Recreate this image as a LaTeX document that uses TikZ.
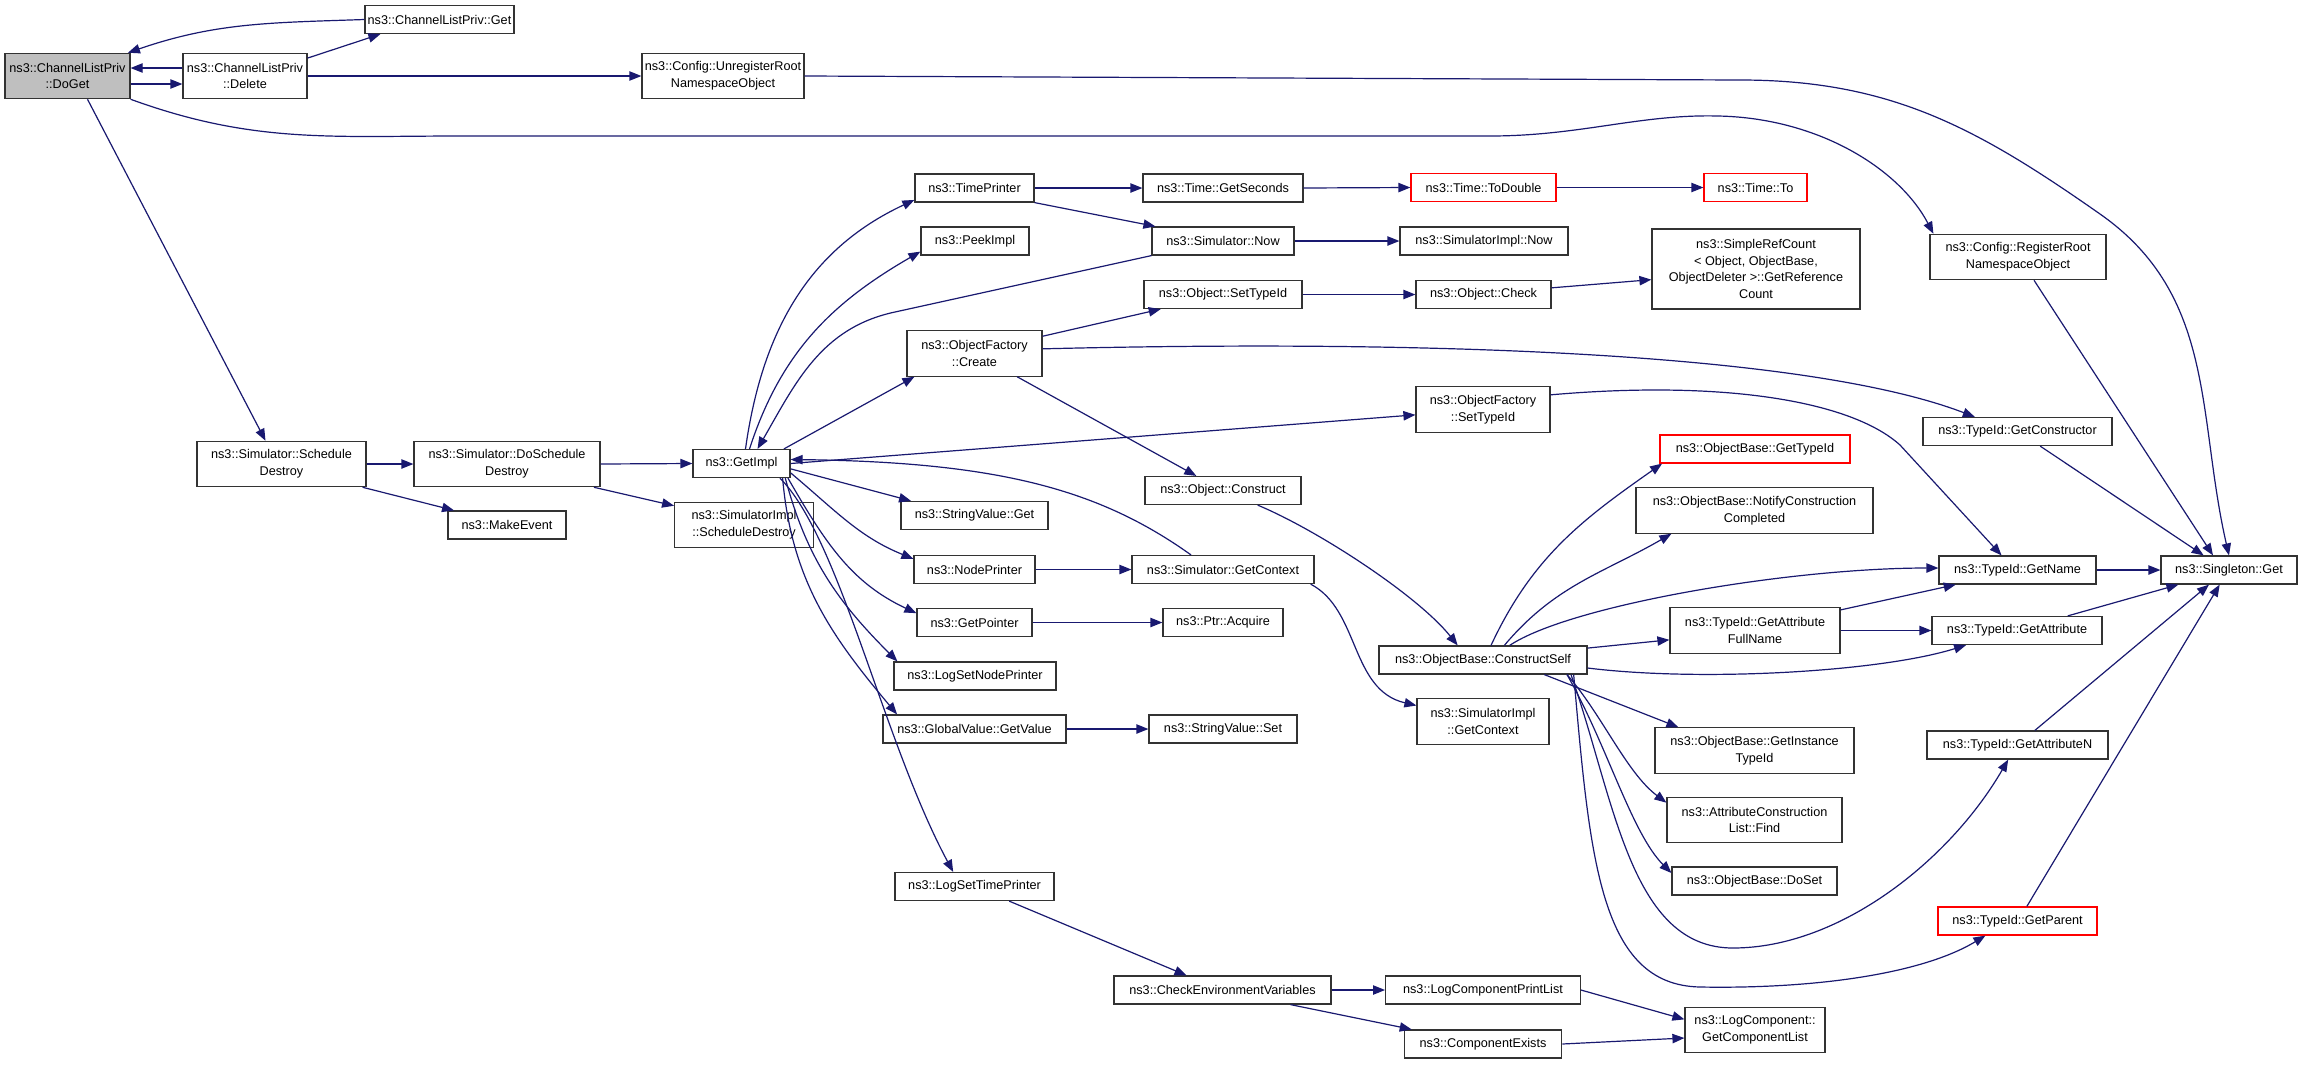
\documentclass[tikz,border=0pt]{standalone}
\usepackage{fontspec}
\setmainfont{Liberation Sans}
\usetikzlibrary{arrows.meta}
\definecolor{edgeblue}{RGB}{25,25,112}
\tikzstyle{fn} = [rectangle, draw=black!80, line width=0.9pt, text centered, align=center, inner xsep=2pt, inner ysep=1pt, minimum height=21pt, font=\fontsize{9.5}{12.5}\selectfont]
\tikzstyle{fntwo} = [fn, minimum height=34pt]
\tikzstyle{root} = [fntwo, fill=black!25]
\tikzstyle{undoc} = [fn, draw=red]
\tikzstyle{call} = [draw=edgeblue, line width=0.9pt, ->]

\begin{document}
\begin{tikzpicture}[x=0.75pt, y=-0.75pt, >={Triangle[length=9pt,width=7pt]}]
	\fill [white] (0,0) rectangle (2299,1072);
	\useasboundingbox (0,0) rectangle (2299,1072);

	% place nodes
	\node [root, minimum width=93.75pt]   (N0) at (67.5,76)   {ns3::ChannelListPriv\\::DoGet};
	\node [fntwo, minimum width=93pt]     (N1) at (245,76)    {ns3::ChannelListPriv\\::Delete};
	\node [fn, minimum width=108.75pt]    (N2) at (439.5,19.5) {ns3::ChannelListPriv::Get};
	\node [fntwo, minimum width=121.5pt]  (N3) at (723,76)    {ns3::Config::UnregisterRoot\\NamespaceObject};
	\node [fntwo, minimum width=126.75pt] (N4) at (281.5,464) {ns3::Simulator::Schedule\\Destroy};
	\node [fntwo, minimum width=139.5pt]  (N5) at (507,464)   {ns3::Simulator::DoSchedule\\Destroy};
	\node [fn, minimum width=88.5pt]      (N6) at (507,525)   {ns3::MakeEvent};
	\node [fntwo, minimum width=104pt]    (N7) at (744,525)   {ns3::SimulatorImpl\\::ScheduleDestroy};
	\node [fn, minimum width=72.75pt]     (N8) at (741.5,463.5) {ns3::GetImpl};

	\node [fn, minimum width=89.25pt]     (N9)  at (974.5,188)   {ns3::TimePrinter};
	\node [fn, minimum width=81pt]        (N10) at (975,241)     {ns3::PeekImpl};
	\node [fntwo, minimum width=101.25pt] (N11) at (974.5,353.5) {ns3::ObjectFactory\\::Create};
	\node [fn, minimum width=110.25pt]    (N12) at (974.5,515.5) {ns3::StringValue::Get};
	\node [fn, minimum width=90.75pt]     (N13) at (974.5,569.5) {ns3::NodePrinter};
	\node [fn, minimum width=86.25pt]     (N14) at (974.5,622.5) {ns3::GetPointer};
	\node [fn, minimum width=121.5pt]     (N15) at (975,676)     {ns3::LogSetNodePrinter};
	\node [fn, minimum width=137.25pt]    (N16) at (974.5,729)   {ns3::GlobalValue::GetValue};
	\node [fn, minimum width=119.25pt]    (N17) at (974.5,886.5) {ns3::LogSetTimePrinter};

	\node [fn, minimum width=120pt]       (N18) at (1223,188)   {ns3::Time::GetSeconds};
	\node [fn, minimum width=106.5pt]     (N19) at (1223,241)   {ns3::Simulator::Now};
	\node [fn, minimum width=118.5pt]     (N20) at (1223,294.5) {ns3::Object::SetTypeId};
	\node [fn, minimum width=117pt]       (N21) at (1223,490.5) {ns3::Object::Construct};
	\node [fn, minimum width=136.5pt]     (N22) at (1223,569.5) {ns3::Simulator::GetContext};
	\node [fn, minimum width=90pt]        (N23) at (1223,622.5) {ns3::Ptr::Acquire};
	\node [fn, minimum width=111pt]       (N24) at (1223,729)   {ns3::StringValue::Set};
	\node [fn, minimum width=162.75pt]    (N25) at (1222.5,990) {ns3::CheckEnvironmentVariables};

	\node [undoc, minimum width=108.75pt] (N26) at (1483.5,187.5) {ns3::Time::ToDouble};
	\node [fn, minimum width=126pt]       (N27) at (1484,241)     {ns3::SimulatorImpl::Now};
	\node [fn, minimum width=101.25pt]    (N28) at (1483.5,294.5) {ns3::Object::Check};
	\node [fntwo, minimum width=100.5pt]  (N29) at (1483,409.5)   {ns3::ObjectFactory\\::SetTypeId};
	\node [fn, minimum width=156pt]       (N30) at (1483,660)     {ns3::ObjectBase::ConstructSelf};
	\node [fntwo, minimum width=99pt]     (N31) at (1483,721.5)   {ns3::SimulatorImpl\\::GetContext};
	\node [fn, minimum width=146pt]       (N32) at (1483,990)     {ns3::LogComponentPrintList};
	\node [fn, minimum width=118pt]       (N33) at (1483,1044)    {ns3::ComponentExists};

	\node [undoc, minimum width=77.25pt]  (N34) at (1755.5,187.5) {ns3::Time::To};
	\node [fn, minimum width=156pt, minimum height=60pt] (N35) at (1756,269)
		{ns3::SimpleRefCount\\{\textless} Object, ObjectBase,\\ObjectDeleter {\textgreater}::GetReference\\Count};
	\node [undoc, minimum width=142.5pt]  (N36) at (1755,449)     {ns3::ObjectBase::GetTypeId};
	\node [fntwo, minimum width=177.75pt] (N37) at (1754.5,510.5) {ns3::ObjectBase::NotifyConstruction\\Completed};
	\node [fntwo, minimum width=127.5pt]  (N38) at (1755,630.5)   {ns3::TypeId::GetAttribute\\FullName};
	\node [fntwo, minimum width=149.25pt] (N39) at (1754.5,750.5) {ns3::ObjectBase::GetInstance\\TypeId};
	\node [fntwo, minimum width=131.25pt] (N40) at (1754.5,820)   {ns3::AttributeConstruction\\List::Find};
	\node [fn, minimum width=123.75pt]    (N41) at (1754.5,881)   {ns3::ObjectBase::DoSet};
	\node [fntwo, minimum width=105pt]    (N42) at (1755,1030)    {ns3::LogComponent::\\GetComponentList};

	\node [fntwo, minimum width=132pt]    (N43) at (2018,257)     {ns3::Config::RegisterRoot\\NamespaceObject};
	\node [fn, minimum width=141.75pt]    (N44) at (2017.5,431.5) {ns3::TypeId::GetConstructor};
	\node [fn, minimum width=117.75pt]    (N45) at (2017.5,570)   {ns3::TypeId::GetName};
	\node [fn, minimum width=127.5pt]     (N46) at (2017,630.5)   {ns3::TypeId::GetAttribute};
	\node [fn, minimum width=135.75pt]    (N47) at (2017.5,745)   {ns3::TypeId::GetAttributeN};
	\node [undoc, minimum width=119.25pt] (N48) at (2017.5,921)   {ns3::TypeId::GetParent};
	\node [fn, minimum width=102pt]       (N49) at (2229,570)     {ns3::Singleton::Get};

	% draw edges
	\path [call] ([yshift=-6pt]N0.east) -- ([yshift=-6pt]N1.west);
	\path [call] ([yshift=6pt]N1.west) -- ([yshift=6pt]N0.east);
	\path [call] ([yshift=-4pt]N1.north east) -- ([xshift=12pt]N2.south west);
	\path [call] (N2.west) to[out=182,in=19] ([xshift=-2pt]N0.north east);
	\path [call] (N1.east) -- (N3.west);
	\path [call] (N3.east) -- (1740,80) to[out=0,in=145] (2100,214) to[out=-35,in=103] (N49.north);
	\path [call] (N0.south east) to[out=-20,in=180] (460,136) -- (1490,136)
		.. controls (1580,136) and (1640,114) .. (1718,116)
		.. controls (1820,118) and (1900,170) .. ([xshift=3pt]N43.north west);
	\path [call] ([xshift=12pt]N43.south) -- ([xshift=-12pt]N49.north);
	\path [call] ([xshift=15pt]N0.south) -- ([xshift=-12pt]N4.north);
	\path [call] (N4.east) -- (N5.west);
	\path [call] ([xshift=-3pt]N4.south east) -- ([xshift=5pt]N6.north west);
	\path [call] (N5.east) -- (N8.west);
	\path [call] ([xshift=-5pt]N5.south east) -- ([yshift=-3pt]N7.north west);

	\path [call] ([xshift=3pt]N8.north) to[out=82,in=205] ([yshift=2pt]N9.south west);
	\path [call] ([xshift=6pt]N8.north) to[out=72,in=210] ([yshift=3pt]N10.south west);
	\path [call] (N19.south west) -- (895,312) to[out=192,in=60] ([xshift=12pt]N8.north);
	\path [call] ([xshift=-5pt]N8.north east) -- ([xshift=6pt]N11.south west);
	\path [call] (N8.east) -- ([yshift=-4pt]N29.west);
	\path [call] ([xshift=-24pt]N22.north) .. controls (1100,490) and (1000,462) .. ([yshift=3pt]N8.east);
	\path [call] ([yshift=-4pt]N8.east) -- ([xshift=8pt]N12.north west);
	\path [call] ([yshift=-7pt]N8.east) to[out=-40,in=158] ([yshift=8pt]N13.west);
	\path [call] ([xshift=-2pt]N8.south east) to[out=-60,in=155] ([yshift=7pt]N14.west);
	\path [call] ([xshift=-4pt]N8.south east) to[out=-75,in=135] ([xshift=3pt]N15.north west);
	\path [call] ([xshift=-6pt]N8.south east) to[out=-85,in=130] ([xshift=11pt]N16.north west);
	\path [call] ([xshift=-8pt]N8.south east) .. controls +(60,60) and +(-70,-130) .. ([xshift=-16pt]N17.north);

	\path [call] (N9.east) -- (N18.west);
	\path [call] (N9.south east) -- ([xshift=3pt]N19.north west);
	\path [call] (N18.east) -- (N26.west);
	\path [call] (N26.east) -- (N34.west);
	\path [call] (N19.east) -- (N27.west);
	\path [call] ([yshift=-4.5pt]N11.north east) -- ([xshift=13pt]N20.south west);
	\path [call] (N20.east) -- (N28.west);
	\path [call] ([yshift=5pt]N28.east) -- ([yshift=-8pt]N35.west);
	\path [call] ([yshift=3.5pt]N11.east) .. controls (1400,340) and (1800,350) .. ([xshift=-32pt]N44.north);
	\path [call] ([xshift=32pt]N11.south) -- ([xshift=-20pt]N21.north);
	\path [call] ([xshift=26pt]N21.south) .. controls +(60,25) and +(-40,-50) .. ([xshift=-19pt]N30.north);
	\path [call] ([yshift=11pt]N29.east) .. controls (1720,380) and (1850,400) .. (1900,445) -- ([xshift=-12pt]N45.north);

	\path [call] ([xshift=6pt]N30.north) to[out=65,in=215] ([xshift=2pt]N36.south west);
	\path [call] ([xshift=16pt]N30.north) to[out=50,in=210] ([xshift=27pt]N37.south west);
	\path [call] ([xshift=20pt]N30.north) .. controls +(60,-40) and +(-150,0) .. ([yshift=1.5pt]N45.west);
	\path [call] ([yshift=-2pt]N30.north east) -- ([yshift=-7pt]N38.west);
	\path [call] ([yshift=-6pt]N30.east) .. controls (1700,682) and (1880,672) .. ([xshift=26pt]N46.south west);
	\path [call] ([xshift=46pt]N30.south) -- ([xshift=18pt]N39.north west);
	\path [call] ([xshift=63pt]N30.south) .. controls +(35,40) and +(-40,-30) .. ([yshift=13pt]N40.west);
	\path [call] ([xshift=63pt]N30.south) .. controls +(40,70) and +(-40,-40) .. ([yshift=6pt]N41.west);
	\path [call] ([xshift=66pt]N30.south) .. controls (1615,800) and (1630,948) .. (1733,948)
		.. controls (1840,948) and (1950,860) .. ([xshift=-7pt]N47.south);
	\path [call] ([xshift=68pt]N30.south) .. controls (1590,860) and (1600,985) .. (1700,987)
		.. controls (1810,989) and (1920,975) .. ([xshift=36pt]N48.south west);

	\path [call] ([yshift=-2pt]N38.north east) -- ([xshift=13pt]N45.south west);
	\path [call] (N38.east) -- (N46.west);
	\path [call] (N45.east) -- (N49.west);
	\path [call] ([xshift=38pt]N46.north) -- ([xshift=13.5pt]N49.south west);
	\path [call] ([xshift=13pt]N47.north) -- ([xshift=-15pt]N49.south);
	\path [call] ([xshift=7pt]N48.north) -- ([xshift=-7pt]N49.south);
	\path [call] ([xshift=17pt]N44.south) -- ([xshift=-19pt]N49.north);

	\path [call] ([xshift=-3pt]N22.south east) .. controls (1360,610) and (1350,690) .. ([yshift=12pt]N31.west);
	\path [call] (N13.east) -- (N22.west);
	\path [call] (N14.east) -- (N23.west);
	\path [call] (N16.east) -- (N24.west);
	\path [call] ([xshift=26pt]N17.south) -- ([xshift=-27pt]N25.north);
	\path [call] (N25.east) -- (N32.west);
	\path [call] ([xshift=51pt]N25.south) -- ([xshift=6pt]N33.north west);
	\path [call] (N32.east) -- ([yshift=8pt]N42.west);
	\path [call] (N33.east) -- ([yshift=-6pt]N42.west);
\end{tikzpicture}
\end{document}
